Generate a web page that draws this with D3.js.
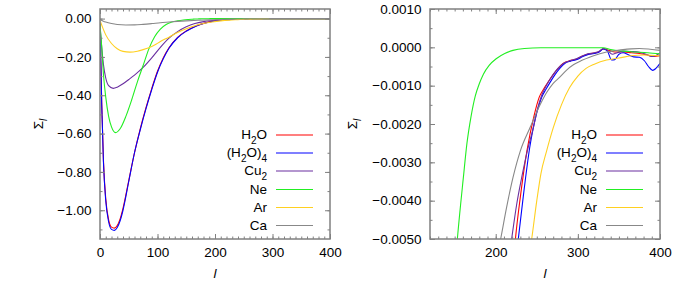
<!DOCTYPE html>
<html>
<head>
<meta charset="utf-8">
<script src="https://cdn.jsdelivr.net/npm/d3@7"></script>
<style>
body { margin: 0; background: #fff; }
svg text { font-family: "Liberation Sans", Arial, sans-serif; font-size: 13.5px; fill: #000; }
</style>
</head>
<body>
<svg id="chart" width="689" height="289"></svg>
<script>
// series names (underscore = subscript) and colours
const seriesNames = ["H_2O", "(H_2O)_4", "Cu_2", "Ne", "Ar", "Ca"];
const seriesColors = ["#ff0000", "#0000ff", "#6a2fa0", "#22ee22", "#ffd020", "#888888"];

// Sigma_l values, [l, value]
const h2o = [[0,-0.02],[3,-0.44],[6,-0.74],[10,-0.94],[15,-1.05],[20,-1.088],[25,-1.093],[30,-1.08],[35,-1.045],[40,-0.99],[50,-0.845],[60,-0.70],[70,-0.575],[80,-0.465],[90,-0.365],[100,-0.275],[110,-0.205],[120,-0.152],[135,-0.098],[150,-0.064],[165,-0.041],[180,-0.025],[200,-0.012],[210,-0.0084],[220,-0.006],[224,-0.005],[230,-0.0039],[238,-0.0027],[246.5,-0.0018],[253,-0.0013],[258,-0.0011],[264,-0.0009],[270,-0.00071],[276,-0.00055],[282,-0.00042],[290,-0.00035],[298,-0.00031],[305,-0.00023],[312,-0.00018],[320,-0.00015],[326,-0.00011],[331,-0.00004],[338,-0.00008],[345,-0.00012],[355,-0.00012],[365,-0.00014],[375,-0.00016],[385,-0.0002],[392,-0.00024],[400,-0.00022]];

const h2o4 = [[0,-0.02],[3,-0.45],[6,-0.75],[10,-0.95],[15,-1.06],[20,-1.10],[25,-1.105],[30,-1.09],[35,-1.055],[40,-1.0],[50,-0.85],[60,-0.70],[70,-0.58],[80,-0.47],[90,-0.37],[100,-0.28],[110,-0.21],[120,-0.155],[135,-0.10],[150,-0.066],[165,-0.042],[180,-0.026],[200,-0.0125],[210,-0.0088],[220,-0.0064],[227.5,-0.005],[233.5,-0.0039],[241.5,-0.0026],[250,-0.0017],[256,-0.0013],[261,-0.0011],[266,-0.00092],[272,-0.00072],[278,-0.00055],[284,-0.00042],[291,-0.00036],[299,-0.00032],[306,-0.00024],[312,-0.00019],[320,-0.00016],[326,-0.00012],[331,-0.00004],[336,-0.0001],[341,-0.00033],[345,-0.00032],[350,-0.00018],[355,-0.00014],[362,-0.0002],[368,-0.00025],[375,-0.00026],[381,-0.00035],[386,-0.0005],[391,-0.0006],[395,-0.00055],[400,-0.00042]];

const cu2 = [[0,-0.04],[3,-0.15],[6,-0.24],[10,-0.31],[15,-0.35],[23,-0.364],[30,-0.358],[40,-0.34],[50,-0.318],[60,-0.295],[75,-0.255],[90,-0.205],[105,-0.15],[120,-0.102],[135,-0.068],[150,-0.043],[165,-0.026],[180,-0.016],[195,-0.0102],[210,-0.0065],[219.4,-0.005],[225.5,-0.0041],[231.6,-0.0034],[238.5,-0.0027],[245.8,-0.0021],[251,-0.0016],[256,-0.00125],[261,-0.00102],[267,-0.0008],[273,-0.00062],[279,-0.00048],[285,-0.00039],[292,-0.00034],[299,-0.00029],[306,-0.00022],[312,-0.00017],[320,-0.00014],[326,-0.0001],[331,-0.00003],[336,-0.00008],[342,-0.00018],[348,-0.00014],[355,-0.0001],[365,-0.00011],[375,-0.00013],[383,-0.00018],[390,-0.00024],[395,-0.00021],[400,-0.00015]];

const ne = [[0,-0.03],[3,-0.15],[6,-0.29],[10,-0.41],[15,-0.51],[20,-0.565],[27,-0.595],[35,-0.575],[45,-0.51],[55,-0.425],[65,-0.33],[75,-0.245],[85,-0.158],[95,-0.095],[105,-0.055],[115,-0.031],[125,-0.018],[135,-0.0115],[145,-0.0073],[153.3,-0.005],[160.6,-0.0034],[165,-0.0025],[170,-0.0018],[175,-0.00128],[180,-0.00095],[185,-0.0007],[192,-0.00047],[201,-0.00029],[211,-0.00016],[221,-0.00008],[235,-0.00003],[255,-0.00001],[300,-0.00001],[331,-0.00001],[340,-0.00006],[355,-0.0001],[370,-0.00012],[385,-0.00014],[400,-0.00017]];

const ar = [[0,-0.01],[5,-0.05],[10,-0.085],[20,-0.13],[30,-0.157],[40,-0.171],[52,-0.175],[65,-0.17],[75,-0.162],[85,-0.152],[95,-0.138],[105,-0.12],[120,-0.097],[135,-0.073],[150,-0.053],[165,-0.037],[180,-0.026],[195,-0.018],[210,-0.0118],[225,-0.0079],[235,-0.0062],[243.8,-0.005],[250,-0.004],[255,-0.0033],[262,-0.0027],[270,-0.0021],[280,-0.0015],[290,-0.00105],[300,-0.00075],[310,-0.00055],[320,-0.00044],[335,-0.00033],[350,-0.00028],[365,-0.00022],[380,-0.0002],[400,-0.00022]];

const ca = [[0,-0.005],[5,-0.012],[10,-0.018],[20,-0.026],[30,-0.031],[45,-0.0335],[60,-0.033],[75,-0.030],[90,-0.026],[105,-0.0215],[120,-0.018],[135,-0.0145],[150,-0.0118],[170,-0.0088],[190,-0.0065],[206,-0.005],[213,-0.0042],[221,-0.0034],[230,-0.0027],[241.7,-0.0021],[254,-0.0015],[262,-0.00118],[270,-0.00094],[278,-0.00078],[286,-0.0006],[295,-0.00045],[305,-0.00034],[315,-0.00025],[325,-0.00018],[335,-0.00012],[345,-0.00009],[355,-0.00006],[365,-0.00004],[375,-0.00003],[388,-0.00005],[400,-0.00008]];

const allSeries = [h2o, h2o4, cu2, ne, ar, ca];

// tick values
const leftXTicks = [0, 100, 200, 300, 400];
const leftYTicks = [0, -0.2, -0.4, -0.6, -0.8, -1.0];
const rightXTicks = [200, 300, 400];
const rightYTicks = [0.001, 0, -0.001, -0.002, -0.003, -0.004, -0.005];

const frameColor = "#808080";
const plotTop = 9, plotBottom = 239;

const panels = [
    { left: 100, right: 330, xDomain: [0, 400], yDomain: [-1.15, 0.05],
      xTicks: leftXTicks, yTicks: leftYTicks,
      xMinor: d3.range(0, 401, 10), yMinor: d3.range(-1.1, 0.051, 0.1),
      fmt: d3.format(".2f"), yLabelX: 43, legendX: 267 },
    { left: 430, right: 660, xDomain: [120, 400], yDomain: [-0.005, 0.001],
      xTicks: rightXTicks, yTicks: rightYTicks,
      xMinor: d3.range(120, 401, 10), yMinor: d3.range(-0.005, 0.00101, 0.0005),
      fmt: d3.format(".4f"), yLabelX: 357, legendX: 597 }
];

const legendRows = [135, 153, 171, 189.5, 207.5, 225.5];

const svg = d3.select("#chart");

// writes "H_2O" style text with subscripts
function richText(sel, str) {
    const parts = str.split(/(_.)/).filter(s => s.length);
    let shifted = false;
    parts.forEach(s => {
        if (s[0] === "_") {
            sel.append("tspan").attr("dy", 5).style("font-size", "10px").text(s[1]);
            shifted = true;
        } else {
            sel.append("tspan").attr("dy", shifted ? -5 : 0).text(s);
            shifted = false;
        }
    });
}

panels.forEach((p, i) => {
    const x = d3.scaleLinear().domain(p.xDomain).range([p.left, p.right]);
    const y = d3.scaleLinear().domain(p.yDomain).range([plotBottom, plotTop]);

    svg.append("clipPath").attr("id", "clip" + i)
        .append("rect")
        .attr("x", p.left).attr("y", plotTop)
        .attr("width", p.right - p.left).attr("height", plotBottom - plotTop);

    const line = d3.line()
        .x(d => x(d[0]))
        .y(d => y(d[1]))
        .curve(d3.curveMonotoneX);

    const curves = svg.append("g").attr("clip-path", `url(#clip${i})`);
    allSeries.forEach((s, j) => {
        curves.append("path")
            .attr("d", line(s))
            .attr("fill", "none")
            .attr("stroke", seriesColors[j])
            .attr("stroke-width", 1.1);
    });

    // minor ticks on all four sides
    const minorAxes = [
        [d3.axisBottom(x).tickValues(p.xMinor), `translate(0,${plotBottom})`],
        [d3.axisTop(x).tickValues(p.xMinor), `translate(0,${plotTop})`],
        [d3.axisLeft(y).tickValues(p.yMinor), `translate(${p.left},0)`],
        [d3.axisRight(y).tickValues(p.yMinor), `translate(${p.right},0)`]
    ];
    minorAxes.forEach(([ax, tr]) => {
        const g = svg.append("g").attr("transform", tr).attr("color", frameColor)
            .call(ax.tickSize(-2.5).tickFormat(""));
        g.select(".domain").remove();
    });

    // major ticks
    const gx = svg.append("g").attr("transform", `translate(0,${plotBottom})`).attr("color", frameColor)
        .call(d3.axisBottom(x).tickValues(p.xTicks).tickSize(-5).tickPadding(8).tickFormat(d3.format("d")));
    const gxt = svg.append("g").attr("transform", `translate(0,${plotTop})`).attr("color", frameColor)
        .call(d3.axisTop(x).tickValues(p.xTicks).tickSize(-5).tickFormat(""));
    const gy = svg.append("g").attr("transform", `translate(${p.left},0)`).attr("color", frameColor)
        .call(d3.axisLeft(y).tickValues(p.yTicks).tickSize(-5).tickPadding(8.5).tickFormat(p.fmt));
    const gyr = svg.append("g").attr("transform", `translate(${p.right},0)`).attr("color", frameColor)
        .call(d3.axisRight(y).tickValues(p.yTicks).tickSize(-5).tickFormat(""));
    [gx, gxt, gy, gyr].forEach(g => g.select(".domain").remove());

    svg.append("rect")
        .attr("x", p.left).attr("y", plotTop)
        .attr("width", p.right - p.left).attr("height", plotBottom - plotTop)
        .attr("fill", "none")
        .attr("stroke", frameColor)
        .attr("stroke-width", 1.5);

    // axis labels
    svg.append("text")
        .attr("x", (p.left + p.right) / 2).attr("y", 278)
        .attr("text-anchor", "middle")
        .style("font-style", "italic")
        .text("l");

    const yl = svg.append("text")
        .attr("transform", `translate(${p.yLabelX},${(plotTop + plotBottom) / 2}) rotate(-90)`)
        .attr("text-anchor", "middle");
    yl.append("tspan").text("\u03A3");
    yl.append("tspan").attr("dy", 4).style("font-size", "10px").style("font-style", "italic").text("l");

    // legend
    seriesNames.forEach((name, j) => {
        const ly = legendRows[j];
        const t = svg.append("text")
            .attr("x", p.legendX).attr("y", ly + 4)
            .attr("text-anchor", "end");
        richText(t, name);
        svg.append("line")
            .attr("x1", p.legendX + 9).attr("x2", p.legendX + 46)
            .attr("y1", ly).attr("y2", ly)
            .attr("stroke", seriesColors[j])
            .attr("stroke-width", 1.1);
    });
});
</script>
</body>
</html>
